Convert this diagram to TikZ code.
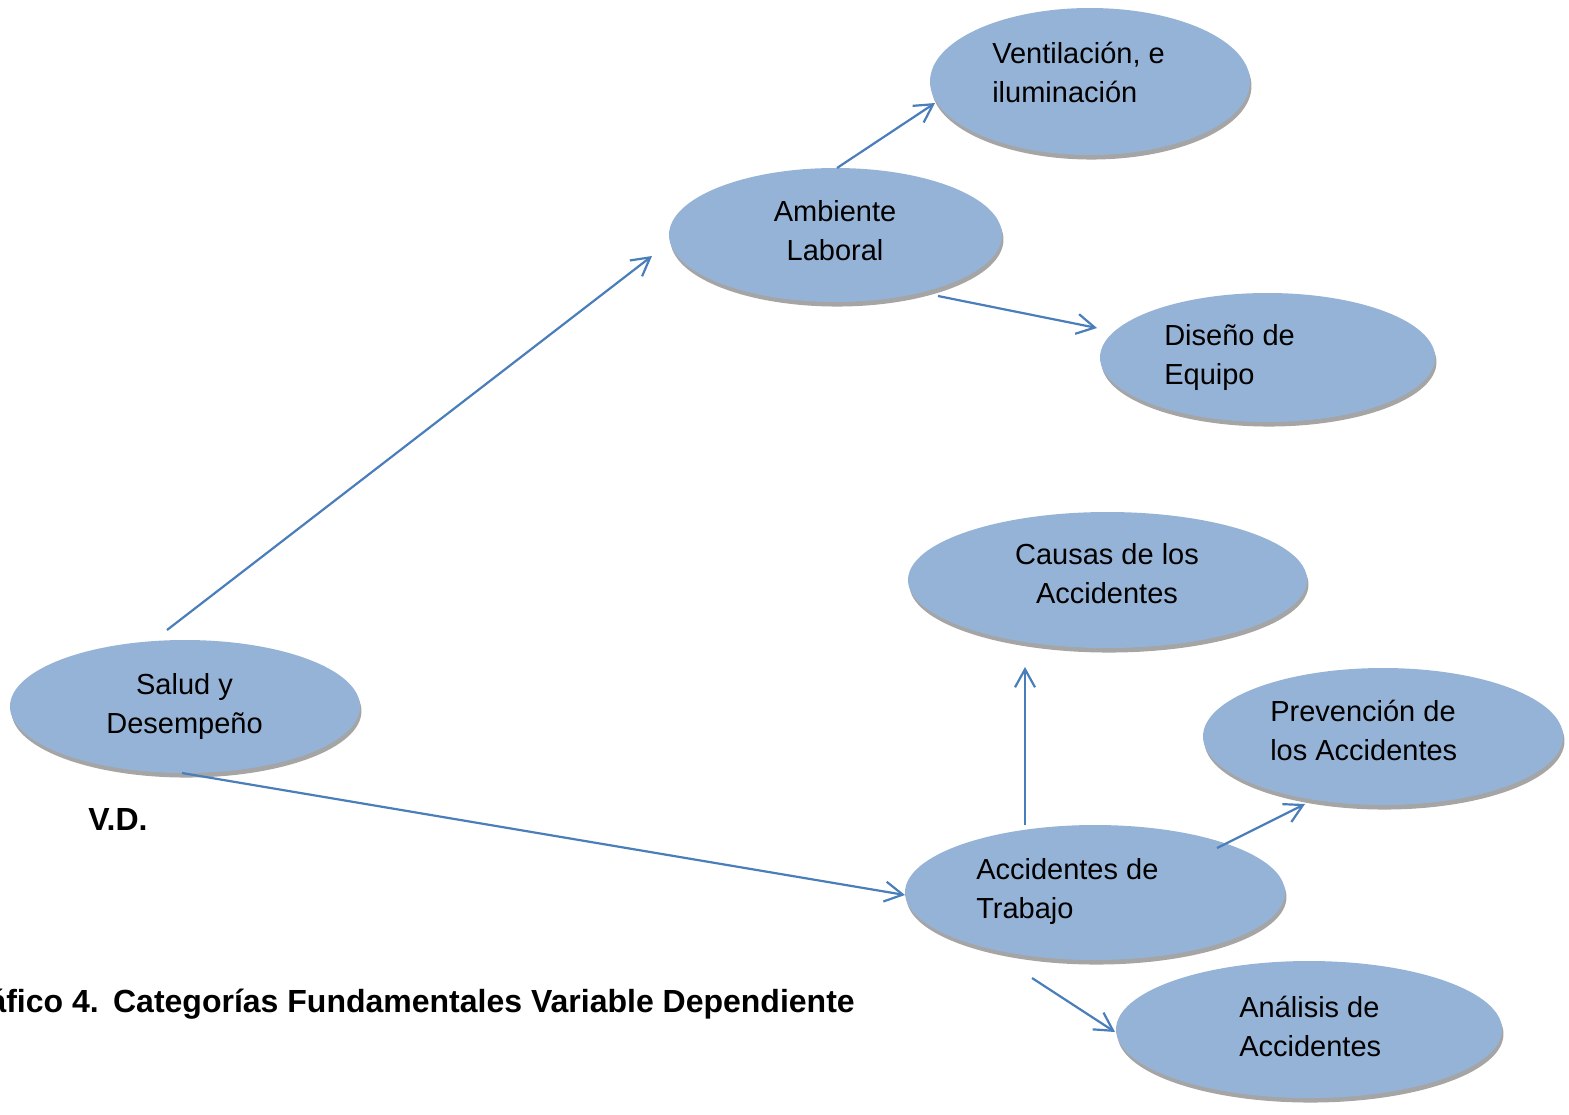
\documentclass[tikz,border=0pt]{standalone}
\usepackage{fontspec}
\setmainfont{Liberation Sans}
\usetikzlibrary{arrows.meta,shapes.geometric,shadows}
\definecolor{bubfill}{HTML}{95B3D7}
\definecolor{bubshadow}{HTML}{A5A5A5}
\definecolor{arrcol}{HTML}{4A7EBB}
\begin{document}
\begin{tikzpicture}[x=0.75pt,y=-0.75pt,
  bub/.style={ellipse, fill=bubfill, inner sep=0pt, outer sep=0pt,
    drop shadow={shadow xshift=1.1pt, shadow yshift=-3.4pt, opacity=1, fill=bubshadow}},
  txt/.style={inner sep=0pt, font=\fontsize{21.75}{28.9}\selectfont},
  ttl/.style={inner sep=0pt, font=\fontsize{24}{28}\selectfont\bfseries},
  arr/.style={draw=arrcol, line width=1.65pt, -{Straight Barb[length=13.5pt,width=15pt,line width=1.65pt]}}]
\useasboundingbox (0,0) rectangle (1569,1114);
\clip (0,0) rectangle (1569,1114);
% ellipses
\node[bub, minimum width=240pt, minimum height=110.25pt] (vent) at (1090,81.5) {};
\node[bub, minimum width=249.75pt, minimum height=100.5pt] (amb) at (835.5,235) {};
\node[bub, minimum width=251.25pt, minimum height=96.75pt] (dis) at (1267.5,357.5) {};
\node[bub, minimum width=299.25pt, minimum height=102pt] (cau) at (1107.5,580) {};
\node[bub, minimum width=270pt, minimum height=102.75pt] (prev) at (1383,736.5) {};
\node[bub, minimum width=262.5pt, minimum height=99.75pt] (sal) at (185,706.5) {};
\node[bub, minimum width=285pt, minimum height=101.25pt] (acc) at (1095,892.5) {};
\node[bub, minimum width=289.5pt, minimum height=102.75pt] (anal) at (1309,1029.5) {};
% texts (anchor on the baseline of the last line)
\node[txt, anchor=base west, align=left] (tvent) at (992,102) {Ventilación, e\\iluminación};
\node[txt, anchor=base, align=center] (tamb) at (835,260) {Ambiente\\Laboral};
\node[txt, anchor=base west, align=left] (tdis) at (1164,384) {Diseño de\\Equipo};
\node[txt, anchor=base, align=center] (tcau) at (1107,603) {Causas de los\\Accidentes};
\node[txt, anchor=base west, align=left] (tprev) at (1270,760) {Prevención de\\los Accidentes};
\node[txt, anchor=base, align=center] (tsal) at (184.5,733) {Salud y\\Desempeño};
\node[txt, anchor=base west, align=left] (tacc) at (976,918) {Accidentes de\\Trabajo};
\node[txt, anchor=base west, align=left] (tanal) at (1239,1056) {Análisis de\\Accidentes};
\node[ttl, anchor=base west] (vd) at (88,830) {V.D.};
\node[ttl, anchor=base east] (title) at (855,1012) {Gráfico 4.\hspace{0.45em}Categorías Fundamentales Variable Dependiente};
% connectors
\draw[arr] ([shift={(-18,-10)}]sal.north) -- ([shift={(-17,21)}]amb.west);
\draw[arr] ([shift={(1.5,0)}]amb.north) -- ([shift={(5,21.5)}]vent.west);
\draw[arr] ([shift={(102.5,-6)}]amb.south) -- ([shift={(-3,-29.5)}]dis.west);
\draw[arr] ([shift={(-3,0)}]sal.south) -- ([shift={(0,2.5)}]acc.west);
\draw[arr] ([shift={(-70,0)}]acc.north) -- ([shift={(-82.5,19)}]cau.south);
\draw[arr] ([shift={(122,23)}]acc.north) -- ([shift={(-78,-1)}]prev.south);
\draw[arr] ([shift={(-63,18)}]acc.south) -- ([shift={(-1,2.5)}]anal.west);
\end{tikzpicture}
\end{document}
